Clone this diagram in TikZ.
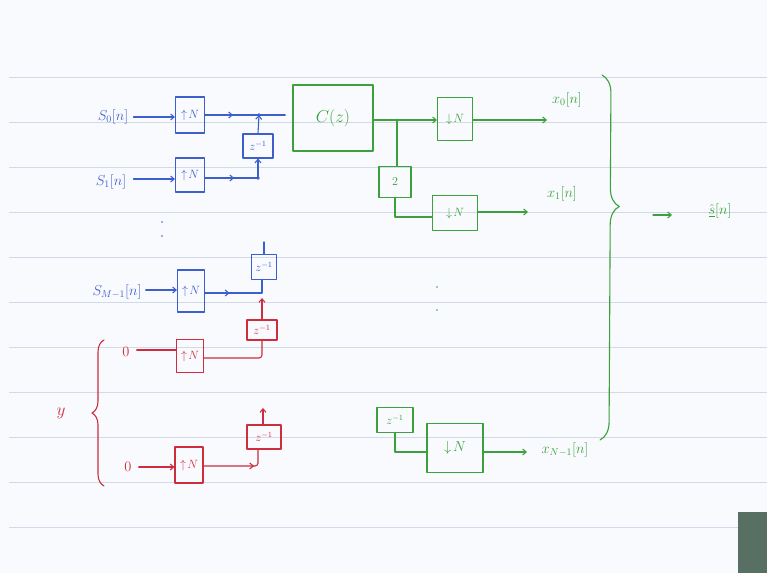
\documentclass[tikz,border=0pt]{standalone}
\usetikzlibrary{arrows.meta,decorations.pathreplacing,decorations.markings}
\definecolor{hblue}{RGB}{60,95,205}
\definecolor{hred}{RGB}{205,45,60}
\definecolor{hgreen}{RGB}{60,160,60}
\definecolor{paper}{RGB}{249,250,253}
\definecolor{ruleline}{RGB}{210,218,232}
\definecolor{slate}{RGB}{88,112,100}
\tikzset{
  pen/.style={line width=1.1pt, line cap=round, line join=round},
  blk/.style={pen, draw, rectangle, inner sep=0pt, font=\large},
  tip/.style={-{Straight Barb[length=3.5pt,width=6pt]}},
  lab/.style={font=\Large, inner sep=1pt},
  midarrow/.style={postaction={decorate}, decoration={markings, mark=at position #1 with {\arrow{Straight Barb[length=3.5pt,width=6pt]}}}},
  dotpt/.style={circle, fill, inner sep=0pt, minimum size=3.8pt},
}
\begin{document}
\begin{tikzpicture}[x=1pt,y=-1pt]
\useasboundingbox (0,0) rectangle (767,573);
% paper
\fill[paper] (0,0) rectangle (767,573);
\foreach \yy in {77,122,...,527} { \draw[ruleline, line width=1pt] (9,\yy) -- (767,\yy); }
\fill[slate] (738,512) rectangle (767,573);

% ---------------- blue ----------------
\begin{scope}[color=hblue, every node/.append style={text=hblue}, blk/.append style={draw=hblue}]
\node[lab] (s0) at (113,117) {$S_0[n]$};
\node[blk, minimum width=29pt, minimum height=36pt] (up0) at (190,115) {$\uparrow\! N$};
\coordinate (add0) at (259,115);
\node[blk, minimum width=30pt, minimum height=24pt] (dl0) at (258,146) {$z^{-1}$};
\node[lab] (s1) at (111,182) {$S_1[n]$};
\node[blk, minimum width=29pt, minimum height=34pt] (up1) at (190,175) {$\uparrow\! N$};
\coordinate (add1) at (258,178);
\node[lab] (sM) at (117,292) {$S_{M-1}[n]$};
\node[blk, minimum width=27pt, minimum height=42pt] (upM) at (191,291) {$\uparrow\! N$};
\node[blk, minimum width=25pt, minimum height=25pt] (dlM) at (264,267) {$z^{-1}$};
\coordinate (dlMtop) at (264,242);
\coordinate (addM) at (262,293);

\draw[pen, tip] (s0.east) ++(4,0) -- (up0.west |- s0.east);
\draw[pen, tip] (s1.east) ++(6,-3) -- (up1.west |- 0,179);
\draw[pen, tip] (sM.east) ++(3,-2) -- (upM.west |- 0,290);
\draw[pen, midarrow=0.35] (up0.east) -- (add0) -- (285,115);
\draw[pen, midarrow=0.55] (up1.east |- add1) -- (add1);
\draw[pen, tip] (add1) -- (dl0.south);
\draw[pen, tip] (dl0.north) -- (add0);
\node[dotpt] at (add0) {};
\node[dotpt] at (add1) {};
\draw[pen, midarrow=0.35] (upM.east |- addM) -- (addM) -- (addM |- dlM.south);
\draw[pen] (dlM.north) -- (dlMtop);
\fill (162,222) circle (0.9pt) (162,236) circle (0.9pt);
\end{scope}

% ---------------- red ----------------
\begin{scope}[color=hred, every node/.append style={text=hred}, blk/.append style={draw=hred}]
\node[lab] (z1) at (126,352) {$0$};
\node[blk, minimum width=27pt, minimum height=33pt] (up2) at (190,356) {$\uparrow\! N$};
\node[blk, minimum width=30pt, minimum height=20pt] (dl2) at (262,330) {$z^{-1}$};
\coordinate (r2) at (262,298);
\node[lab] (z2) at (128,467) {$0$};
\node[blk, minimum width=28pt, minimum height=36pt] (up3) at (189,465) {$\uparrow\! N$};
\node[blk, minimum width=34pt, minimum height=24pt] (dl3) at (264,437) {$z^{-1}$};
\coordinate (r3) at (263,408);
\node[font=\LARGE] (ylab) at (61,413) {$y$};

\draw[pen] (z1.east) ++(6,-2) -- (up2.west |- 0,350);
\draw[pen, rounded corners=3pt] (up2.east |- 0,358) -- (262,358) -- (dl2.south);
\draw[pen, tip] (dl2.north) -- (r2);
\draw[pen, tip] (z2.east) ++(6,0) -- (up3.west |- z2.east);
\draw[pen, midarrow=0.72, rounded corners=3pt] (up3.east |- 0,466) -- (258,466) -- (258,449);
\draw[pen, tip] (dl3.north -| r3) -- (r3);
\draw[pen, decorate, decoration={brace, amplitude=12pt}] (104,486) -- (104,340);
\end{scope}

% ---------------- green ----------------
\begin{scope}[color=hgreen, every node/.append style={text=hgreen}, blk/.append style={draw=hgreen}]
\node[blk, minimum width=80pt, minimum height=66pt, font=\LARGE] (C) at (333,118) {$C(z)$};
\draw[pen, hblue, shorten >=8pt] (285,115) -- (C.west |- 0,115);
\node[blk, minimum width=35pt, minimum height=43pt] (dn0) at (455,119) {$\downarrow\! N$};
\coordinate (br) at (397,120);
\node[blk, minimum width=32pt, minimum height=31pt] (d2) at (395,182) {$2$};
\node[blk, minimum width=45pt, minimum height=35pt] (dn1) at (455,213) {$\downarrow\! N$};
\node[blk, minimum width=36pt, minimum height=25pt] (dl4) at (395,420) {$z^{-1}$};
\node[blk, minimum width=56pt, minimum height=49pt, font=\Large] (dnN) at (455,448) {$\downarrow\! N$};
\coordinate (o0) at (547,120);
\coordinate (o1) at (528,212);
\coordinate (oN) at (527,452);
\node[lab] (x0) at (567,100) {$x_0[n]$};
\node[lab] (x1) at (562,194) {$x_1[n]$};
\node[lab] (xN) at (565,450) {$x_{N-1}[n]$};

\draw[pen, tip] (C.east |- br) -- (dn0.west |- br);
\draw[pen] (br) -- (br |- d2.north);
\draw[pen] (d2.south) -- (d2.south |- 0,217) -- (dn1.west |- 0,217);
\draw[pen, tip] (dn0.east |- o0) -- (o0);
\draw[pen, tip] (dn1.east |- o1) -- (o1);
\draw[pen] (dl4.south) -- (dl4.south |- oN) -- (dnN.west |- oN);
\draw[pen, tip] (dnN.east |- oN) -- (oN);
\fill (437,287) circle (0.9pt) (437,310) circle (0.9pt);

\draw[pen, decorate, decoration={brace, amplitude=18pt, aspect=0.36}] (602,75) -- (600,440);
\coordinate (a0) at (653,215);
\node[lab] (shat) at (720,211) {$\hat{\underline{s}}[n]$};
\draw[pen, tip] (a0) -- (672,215);
\end{scope}
\end{tikzpicture}
\end{document}
